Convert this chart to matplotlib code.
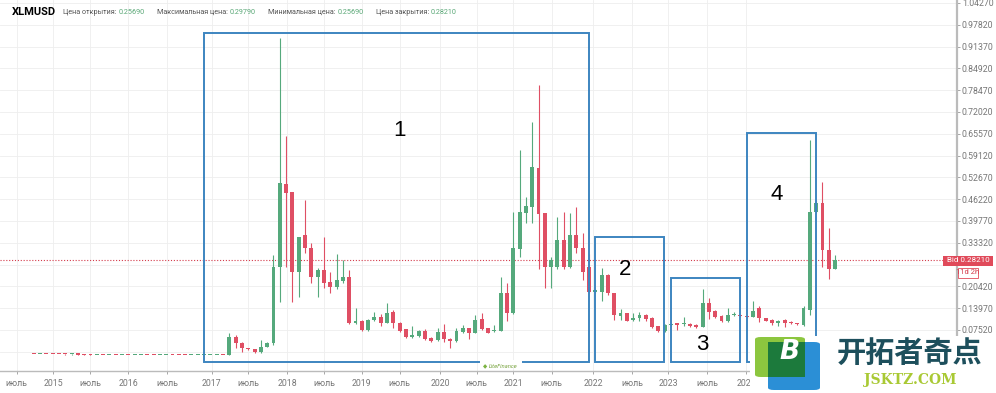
import numpy as np
import matplotlib
matplotlib.use('Agg')
import matplotlib.pyplot as plt
from matplotlib.patches import Rectangle, FancyBboxPatch

# XLMUSD monthly candles (first ~ autumn 2014, last = current month)
opens = [0.0045, 0.0040, 0.0042, 0.0038, 0.0036, 0.0030, 0.0028, 0.0030, 0.0027, 0.0025,
         0.0022, 0.0024, 0.0020, 0.0021, 0.0019, 0.0020, 0.0018, 0.0019, 0.0020, 0.0018,
         0.0017, 0.0018, 0.0020, 0.0019, 0.0018, 0.0017, 0.0018, 0.0019, 0.0020, 0.0021, 0.0022,
         # 2017 ->
         0.002, 0.054, 0.038, 0.019, 0.019, 0.009, 0.026, 0.036, 0.262, 0.506,
         0.482, 0.248, 0.356, 0.319, 0.231, 0.253, 0.216, 0.202, 0.221, 0.233,
         0.095, 0.103, 0.075, 0.105, 0.115, 0.097, 0.127, 0.097, 0.077, 0.055,
         0.057, 0.073, 0.053, 0.045, 0.070, 0.050, 0.043, 0.070, 0.080, 0.067,
         0.108, 0.080, 0.072, 0.073, 0.184, 0.126, 0.315, 0.420, 0.440, 0.555,
         0.420, 0.263, 0.263, 0.342, 0.263, 0.356, 0.317, 0.262, 0.189, 0.189,
         0.238, 0.184, 0.117, 0.125, 0.105, 0.110, 0.120, 0.110, 0.087, 0.073,
         0.091, 0.095, 0.093, 0.093, 0.090, 0.085, 0.156, 0.131, 0.117, 0.102,
         0.119, 0.118, 0.116, 0.115, 0.141, 0.110, 0.105, 0.097, 0.105, 0.100,
         0.095, 0.090, 0.135, 0.425, 0.450, 0.312, 0.2569]
highs = [0.0050, 0.0046, 0.0045, 0.0042, 0.0040, 0.0034, 0.0032, 0.0033, 0.0030, 0.0028,
         0.0026, 0.0026, 0.0023, 0.0023, 0.0022, 0.0022, 0.0021, 0.0022, 0.0022, 0.0021,
         0.0020, 0.0021, 0.0022, 0.0022, 0.0020, 0.0020, 0.0021, 0.0022, 0.0023, 0.0024, 0.0025,
         0.065, 0.060, 0.041, 0.021, 0.020, 0.046, 0.041, 0.297, 0.938, 0.649,
         0.482, 0.351, 0.460, 0.334, 0.258, 0.350, 0.246, 0.299, 0.282, 0.253,
         0.139, 0.105, 0.107, 0.129, 0.122, 0.156, 0.133, 0.099, 0.078, 0.087,
         0.075, 0.079, 0.054, 0.082, 0.092, 0.053, 0.080, 0.090, 0.082, 0.119,
         0.125, 0.082, 0.090, 0.231, 0.213, 0.425, 0.608, 0.470, 0.692, 0.800,
         0.420, 0.290, 0.410, 0.425, 0.420, 0.440, 0.363, 0.300, 0.196, 0.258,
         0.240, 0.186, 0.137, 0.126, 0.125, 0.127, 0.122, 0.113, 0.088, 0.094,
         0.096, 0.097, 0.114, 0.096, 0.092, 0.196, 0.169, 0.134, 0.119, 0.140,
         0.128, 0.121, 0.118, 0.161, 0.147, 0.112, 0.108, 0.105, 0.107, 0.101,
         0.097, 0.146, 0.637, 0.460, 0.514, 0.376, 0.2979]
lows = [0.0038, 0.0036, 0.0035, 0.0033, 0.0028, 0.0026, 0.0025, 0.0025, 0.0023, 0.0020,
        0.0019, 0.0019, 0.0018, 0.0018, 0.0017, 0.0017, 0.0016, 0.0017, 0.0016, 0.0016,
        0.0015, 0.0016, 0.0017, 0.0017, 0.0016, 0.0015, 0.0016, 0.0017, 0.0018, 0.0019, 0.0019,
        0.001, 0.021, 0.011, 0.016, 0.008, 0.006, 0.024, 0.031, 0.159, 0.262,
        0.159, 0.174, 0.302, 0.213, 0.174, 0.199, 0.186, 0.196, 0.215, 0.093,
        0.092, 0.073, 0.073, 0.101, 0.088, 0.095, 0.082, 0.070, 0.052, 0.052,
        0.054, 0.045, 0.040, 0.044, 0.040, 0.022, 0.040, 0.067, 0.048, 0.066,
        0.075, 0.065, 0.070, 0.072, 0.101, 0.122, 0.290, 0.391, 0.391, 0.255,
        0.199, 0.199, 0.255, 0.255, 0.260, 0.302, 0.223, 0.185, 0.185, 0.160,
        0.179, 0.105, 0.105, 0.101, 0.102, 0.103, 0.102, 0.082, 0.070, 0.070,
        0.088, 0.076, 0.086, 0.085, 0.082, 0.083, 0.107, 0.111, 0.100, 0.100,
        0.116, 0.114, 0.112, 0.113, 0.100, 0.101, 0.090, 0.088, 0.084, 0.093,
        0.091, 0.087, 0.120, 0.420, 0.262, 0.225, 0.2569]
closes = [0.0040, 0.0042, 0.0038, 0.0036, 0.0030, 0.0028, 0.0030, 0.0027, 0.0025, 0.0022,
          0.0024, 0.0020, 0.0021, 0.0019, 0.0020, 0.0018, 0.0019, 0.0020, 0.0018, 0.0017,
          0.0018, 0.0020, 0.0019, 0.0018, 0.0017, 0.0018, 0.0019, 0.0020, 0.0021, 0.0022, 0.0020,
          0.054, 0.036, 0.021, 0.018, 0.009, 0.026, 0.036, 0.262, 0.511, 0.480,
          0.248, 0.351, 0.317, 0.231, 0.253, 0.213, 0.202, 0.223, 0.233, 0.095,
          0.103, 0.075, 0.105, 0.115, 0.097, 0.125, 0.097, 0.073, 0.055, 0.061,
          0.073, 0.049, 0.043, 0.070, 0.048, 0.043, 0.073, 0.080, 0.065, 0.105,
          0.077, 0.067, 0.075, 0.184, 0.126, 0.317, 0.423, 0.442, 0.558, 0.418,
          0.263, 0.282, 0.342, 0.263, 0.356, 0.317, 0.248, 0.189, 0.193, 0.238,
          0.184, 0.120, 0.125, 0.103, 0.110, 0.120, 0.107, 0.085, 0.073, 0.090,
          0.094, 0.091, 0.097, 0.087, 0.085, 0.156, 0.129, 0.115, 0.102, 0.120,
          0.121, 0.117, 0.115, 0.131, 0.110, 0.103, 0.095, 0.102, 0.097, 0.095,
          0.093, 0.139, 0.425, 0.450, 0.312, 0.255, 0.2821]

price_ticks = [0.01070, 0.07520, 0.13970, 0.20420, 0.26870, 0.33320, 0.39770, 0.46220,
               0.52670, 0.59120, 0.65570, 0.72020, 0.78470, 0.84920, 0.91370, 0.97820, 1.04270]
hidden_price_labels = [0.01070, 0.26870]  # covered by the logo / bid tag in the screenshot
date_ticks = [-2.7, 3.1, 9.0, 15.0, 21.2, 28.2, 34.0, 40.2, 46.0, 52.0,
              58.0, 64.4, 70.2, 76.0, 82.1, 88.7, 94.8, 100.6, 106.7, 112.9]
date_labels = ['июль', '2015', 'июль', '2016', 'июль', '2017', 'июль', '2018', 'июль', '2019',
               'июль', '2020', 'июль', '2021', 'июль', '2022', 'июль', '2023', 'июль', '2024']

# annotation boxes: label, left, right, top (bottom is shared)
zone_names = ['1', '2', '3', '4']
zone_left = [27.0, 89.0, 101.0, 113.0]
zone_right = [88.0, 99.9, 112.0, 124.0]
zone_top = [0.953, 0.351, 0.228, 0.659]
zone_text_x = [58.0, 93.7, 106.0, 117.8]
zone_text_y = [0.664, 0.253, 0.031, 0.475]

GREEN = '#55a97c'
RED = '#df4f64'
BLUE = '#3d85c0'
W, H = 996, 393


def px(x, y):
    return x / W, 1 - y / H


fig = plt.figure(figsize=(W / 100, H / 100), dpi=100)
ax = fig.add_axes([0, 22 / H, 957 / W, 371 / H])

o = np.array(opens)
h = np.array(highs)
l = np.array(lows)
c = np.array(closes)
idx = np.arange(len(o))
cols = np.where(c >= o, GREEN, RED)

ax.vlines(idx, l, h, colors=cols, lw=0.8, zorder=3)
body = np.maximum(np.abs(c - o), 0.003)
ax.bar(idx, body, bottom=np.minimum(o, c), width=0.62, color=cols, zorder=4)

ax.axhline(c[-1], color='#d43c4c', ls=(0, (1, 1.6)), lw=0.8, zorder=2)

for name, x0, x1, top, tx, ty in zip(zone_names, zone_left, zone_right, zone_top,
                                      zone_text_x, zone_text_y):
    ax.add_patch(Rectangle((x0, -0.0204), x1 - x0, top + 0.0204, fill=False,
                           ec=BLUE, lw=1.4, zorder=5))
    ax.text(tx, ty, name, fontsize=16, family='Liberation Sans', ha='center', va='center',
            zorder=6)

ax.set_xlim(-5.34, 146.32)
ax.set_ylim(-0.0461, 1.0515)

ax.yaxis.tick_right()
ax.set_yticks(price_ticks)
ax.set_yticklabels(['' if any(abs(t - hp) < 1e-4 for hp in hidden_price_labels) else f'{t:.5f}'
                    for t in price_ticks])
ax.set_xticks(date_ticks)
ax.set_xticklabels(date_labels)
ax.tick_params(axis='y', length=2, width=0.6, pad=1.5, colors='#999999', labelcolor='#777777',
               labelsize=6.3)
ax.tick_params(axis='x', length=2, width=0.6, pad=3.5, colors='#999999', labelcolor='#777777',
               labelsize=6.3)
for lab in ax.get_xticklabels() + ax.get_yticklabels():
    lab.set_family('Roboto')
ax.grid(True, color='#eeeeee', lw=0.6, zorder=0)
ax.set_axisbelow(True)
for s in ['left', 'top']:
    ax.spines[s].set_visible(False)
ax.spines['right'].set_color('#bbbbbb')
ax.spines['right'].set_linewidth(1.6)
ax.spines['bottom'].set_color('#bbbbbb')
ax.spines['bottom'].set_linewidth(1.0)

# header
fig.text(*px(12, 12), 'XLMUSD', fontsize=8, weight='bold', family='Roboto', va='center')
hdr = [('Цена открытия:', 63, opens[-1], 119), ('Максимальная цена:', 157, highs[-1], 230),
       ('Минимальная цена:', 268, lows[-1], 338), ('Цена закрытия:', 376, closes[-1], 431)]
for name, x, val, vx in hdr:
    fig.text(*px(x, 12.5), name, fontsize=5.2, family='Roboto', color='#555555', va='center')
    fig.text(*px(vx, 12.5), f'{val:.5f}', fontsize=5.2, family='Roboto', color='#5aa877',
             va='center')

# bid label on the price scale
fig.patches.append(Rectangle(px(942.7, 265.5), 50.6 / W, 10 / H, transform=fig.transFigure,
                             fc='#e04a5a', ec='none', zorder=10))
fig.text(*px(968, 260.5), f'Bid {closes[-1]:.5f}', fontsize=5.8, family='Roboto', color='white',
         ha='center', va='center', zorder=11)
fig.patches.append(Rectangle(px(957.5, 277.5), 20 / W, 9.5 / H, transform=fig.transFigure,
                             fc='white', ec='#e04a5a', lw=0.6, zorder=10))
fig.text(*px(967.5, 272.5), '11d 2h', fontsize=5.5, family='Roboto', color='#d43c4c',
         ha='center', va='center', zorder=11)

# tiny LiteFinance mark on the bottom of box 1
fig.patches.append(Rectangle(px(480, 366), 42 / W, 6 / H, transform=fig.transFigure,
                             fc='white', ec='none', zorder=10))
fig.text(*px(485, 366.5), '◆', fontsize=4, color='#7cb342', ha='center', va='center', zorder=11)
fig.text(*px(503, 366.5), 'LiteFinance', fontsize=3.6, style='italic', color='#6a9a2a',
         ha='center', va='center', zorder=11)

# watermark logo bottom right
fig.patches.append(Rectangle(px(750, 393), 246 / W, 57 / H, transform=fig.transFigure,
                             fc='white', ec='none', zorder=20))
fig.patches.append(FancyBboxPatch(px(755, 377), 50 / W, 40 / H, transform=fig.transFigure,
                                  boxstyle='round,pad=0,rounding_size=0.006', fc='#8cc63f',
                                  ec='none', zorder=21))
fig.patches.append(FancyBboxPatch(px(768, 390), 52 / W, 48 / H, transform=fig.transFigure,
                                  boxstyle='round,pad=0,rounding_size=0.006', fc='#2b8fd6',
                                  ec='none', zorder=22))
fig.patches.append(Rectangle(px(768, 377), 37 / W, 35 / H, transform=fig.transFigure,
                             fc='#1c7a3c', ec='none', zorder=23))
fig.text(*px(789, 352), 'B', fontsize=19, weight='bold', style='italic', family='DejaVu Sans',
         color='white', ha='center', va='center', zorder=24)
fig.text(*px(910, 354), '开拓者奇点', fontsize=21, weight='bold', family=['Noto Sans CJK SC'],
         color='#1d4f5c', ha='center', va='center', zorder=24)
fig.text(*px(910, 380), 'JSKTZ.COM', fontsize=10, weight='bold', family='DejaVu Serif',
         color='#a9c934', ha='center', va='center', zorder=24)

fig.savefig('out.png', dpi=100)
